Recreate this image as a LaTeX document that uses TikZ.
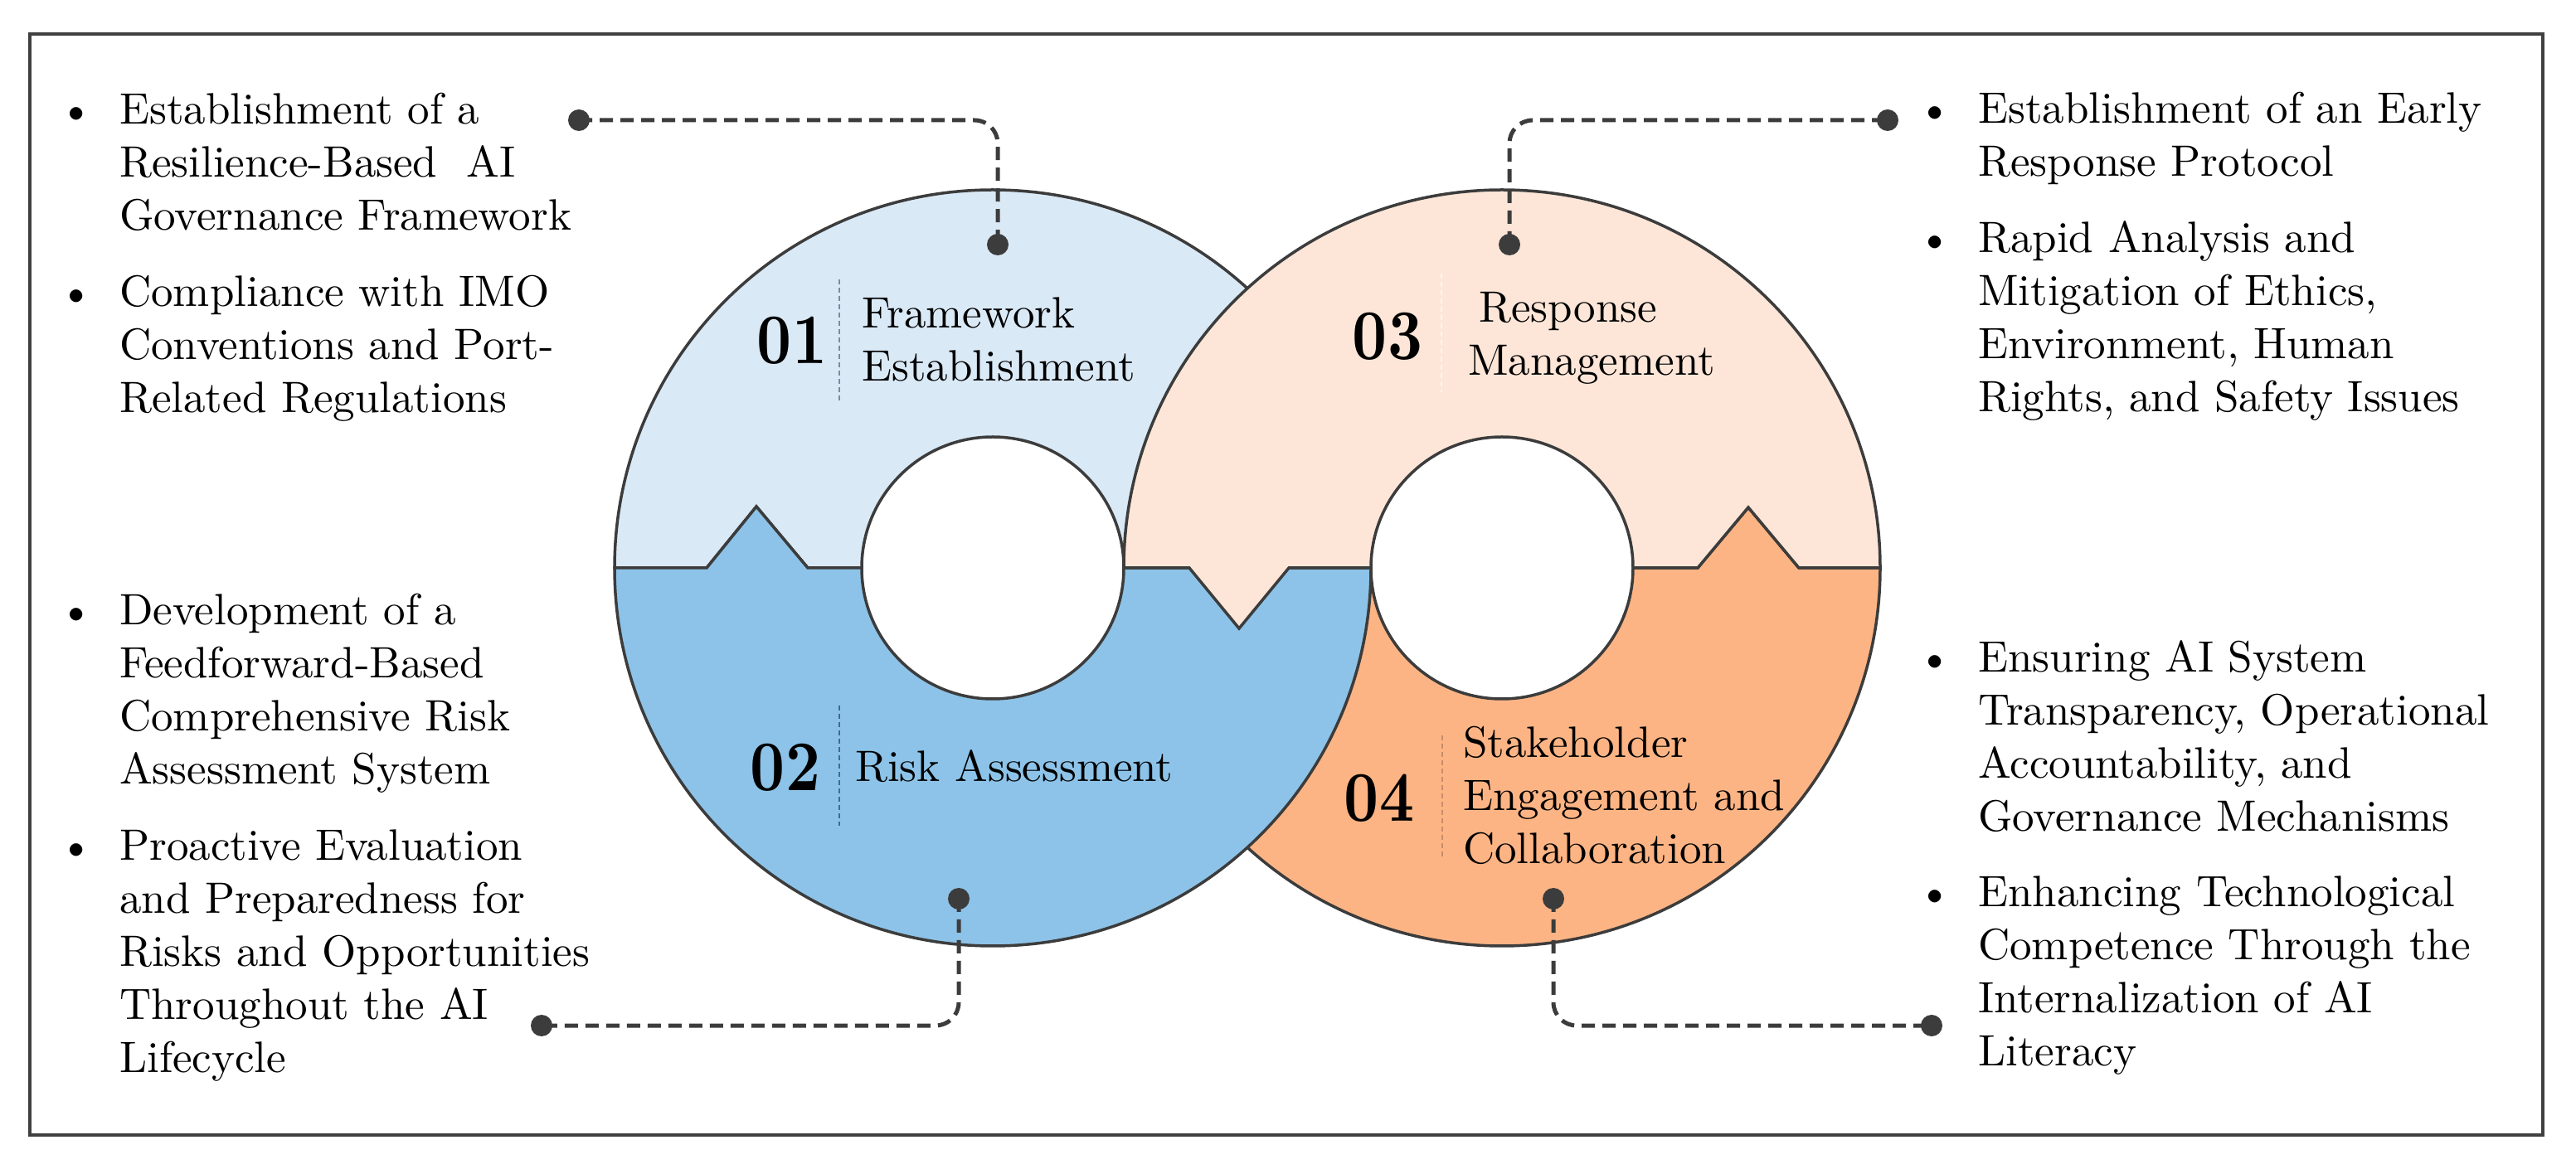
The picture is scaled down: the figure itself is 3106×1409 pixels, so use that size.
\documentclass[tikz,border=0pt]{standalone}
\usepackage{fontspec}
\setmainfont{lmroman10-regular}[Extension=.otf,BoldFont=lmroman10-bold,ItalicFont=lmroman10-italic]
\usepackage{graphicx}
\definecolor{cA}{RGB}{218,233,246}
\definecolor{cB}{RGB}{141,195,232}
\definecolor{cC}{RGB}{253,230,216}
\definecolor{cD}{RGB}{253,180,132}
\definecolor{ol}{RGB}{60,60,60}
\definecolor{frm}{RGB}{64,64,64}
\newcommand\txtfont{\fontsize{53}{64}\selectfont}
\newcommand\numfont{\fontsize{86}{86}\selectfont\bfseries}
\tikzset{
  ringpart/.style={draw=ol,line width=3.5pt,line join=miter},
  frame/.style={draw=frm,line width=4pt},
  item/.style={anchor=base west,align=left,text width=700pt,inner sep=0pt,font=\txtfont},
  lab/.style={anchor=base west,align=left,text width=500pt,inner sep=0pt,font=\txtfont},
  bul/.style={anchor=base,inner sep=0pt,font=\txtfont},
  num/.style={anchor=base,inner sep=0pt,font=\numfont},
  dot/.style={circle,fill=ol,inner sep=0pt,minimum size=26pt},
  conn/.style={draw=ol,line width=5pt,dash pattern=on 16pt off 9pt,rounded corners=28pt},
  sepline/.style={line width=1.8pt,dash pattern=on 6pt off 4pt}
}
\begin{document}
\begin{tikzpicture}[x=1pt,y=1pt]
\useasboundingbox (0,0) rectangle (3106,1409);
\draw[frame] (36,40) rectangle (3066,1368);
% 01 top of left ring
\path[ringpart,fill=cA] (741,724) arc[start angle=180,end angle=0,radius=456pt]
  -- (1355,724) arc[start angle=0,end angle=180,radius=158pt]
  -- (974,724) -- (912,798) -- (852,724) -- cycle;
% 04 bottom of right ring
\path[ringpart,fill=cD] (1355,724) -- (1434,724) -- (1494,651) -- (1554,724) -- (1653,724)
  arc[start angle=180,end angle=360,radius=158pt]
  -- (2047,724) -- (2108,797) -- (2169,724) -- (2267,724)
  arc[start angle=0,end angle=-180,radius=456pt] -- cycle;
% 02 bottom of left ring
\path[ringpart,fill=cB] (741,724) -- (852,724) -- (912,798) -- (974,724) -- (1039,724)
  arc[start angle=180,end angle=360,radius=158pt]
  -- (1653,724) arc[start angle=0,end angle=-180,radius=456pt] -- cycle;
% 03 top of right ring
\path[ringpart,fill=cC] (1355,724) arc[start angle=180,end angle=0,radius=456pt]
  -- (2169,724) -- (2108,797) -- (2047,724) -- (1969,724)
  arc[start angle=0,end angle=180,radius=158pt]
  -- (1554,724) -- (1494,651) -- (1434,724) -- cycle;
% separators
\draw[sepline,draw={rgb,255:red,120;green,140;blue,165}] (1012,1072) -- (1012,925);
\draw[sepline,draw={rgb,255:red,70;green,105;blue,140}] (1012,558) -- (1012,413);
\draw[sepline,draw={rgb,255:red,255;green,244;blue,236}] (1738,1079) -- (1738,936);
\draw[sepline,draw={rgb,255:red,200;green,140;blue,110}] (1739,522) -- (1739,375);
% numbers and labels
\node[num] (n01) at (955,970) {\scalebox{0.85}[1]{01}};
\node[num] (n02) at (947,455) {\scalebox{0.85}[1]{02}};
\node[num] (n03) at (1673,975) {\scalebox{0.85}[1]{03}};
\node[num] (n04) at (1663,418) {\scalebox{0.85}[1]{04}};
\node[lab] (l01) at (1039,1013) {Framework\\Establishment};
\node[lab] (l02) at (1031,466) {Risk Assessment};
\node[lab] (l03) at (1770,1020) {\hspace*{13pt}Response\\Management};
\node[lab] (l04) at (1764,495) {Stakeholder\\Engagement and\\Collaboration};
% connectors
\node[dot] (d1a) at (698,1264) {};
\node[dot] (d1b) at (1203,1114) {};
\node[dot] (d3b) at (1820,1114) {};
\node[dot] (d3a) at (2276,1264) {};
\node[dot] (d2b) at (1156,325) {};
\node[dot] (d2a) at (653,172) {};
\node[dot] (d4b) at (1873,325) {};
\node[dot] (d4a) at (2329,172) {};
\draw[conn] (d1a.center) -| (d1b.center);
\draw[conn] (d3b.center) |- (d3a.center);
\draw[conn] (d2b.center) |- (d2a.center);
\draw[conn] (d4b.center) |- (d4a.center);
% left bullets
\node[bul] (b1) at (92,1259) {\textbullet};
\node[item] (t1) at (144,1259) {Establishment of a\\Resilience-Based\ \ AI\\Governance Framework};
\node[bul] (b2) at (92,1039) {\textbullet};
\node[item] (t2) at (144,1039) {Compliance with IMO\\Conventions and Port-\\Related Regulations};
\node[bul] (b3) at (92,655) {\textbullet};
\node[item] (t3) at (144,655) {Development of a\\Feedforward-Based\\Comprehensive Risk\\Assessment System};
\node[bul] (b4) at (92,371) {\textbullet};
\node[item] (t4) at (144,371) {Proactive Evaluation\\and Preparedness for\\Risks and Opportunities\\Throughout the AI\\Lifecycle};
% right bullets
\node[bul] (b5) at (2333,1260) {\textbullet};
\node[item] (t5) at (2385,1260) {Establishment of an Early\\Response Protocol};
\node[bul] (b6) at (2333,1104) {\textbullet};
\node[item] (t6) at (2385,1104) {Rapid Analysis and\\Mitigation of Ethics,\\Environment, Human\\Rights, and Safety Issues};
\node[bul] (b7) at (2333,598) {\textbullet};
\node[item] (t7) at (2385,598) {Ensuring AI System\\Transparency, Operational\\Accountability, and\\Governance Mechanisms};
\node[bul] (b8) at (2333,315) {\textbullet};
\node[item] (t8) at (2385,315) {Enhancing Technological\\Competence Through the\\Internalization of AI\\Literacy};
\end{tikzpicture}
\end{document}
